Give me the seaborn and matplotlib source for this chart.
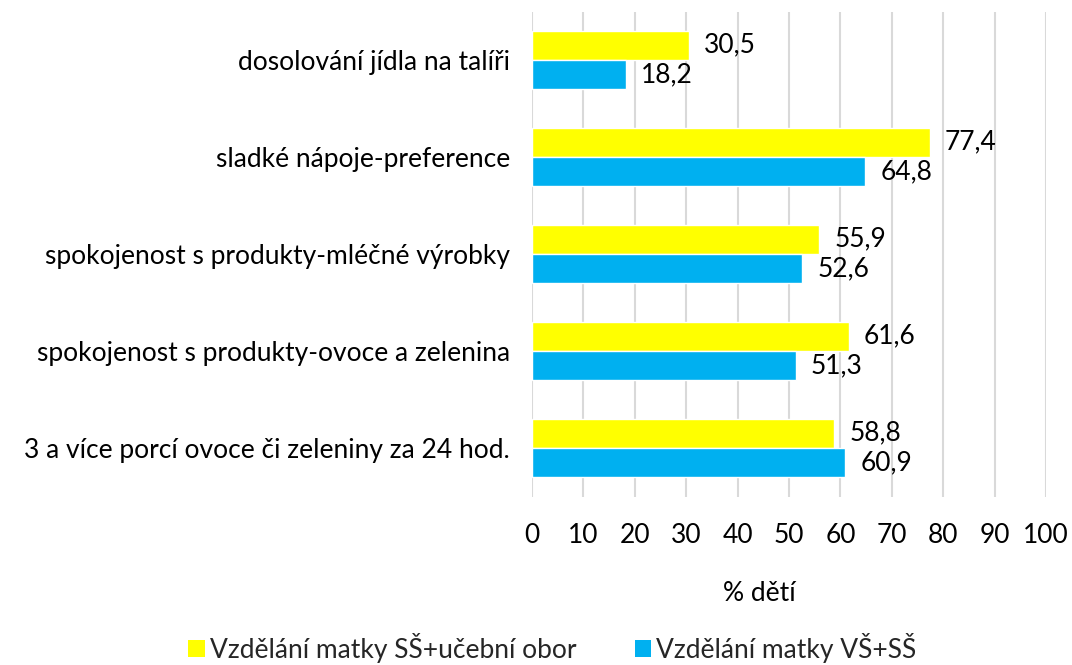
import matplotlib
matplotlib.use("Agg")
import matplotlib.pyplot as plt
import seaborn as sns
import pandas as pd
from matplotlib.patches import Patch

categories = [
    "dosolování jídla na talíři",
    "sladké nápoje-preference",
    "spokojenost s produkty-mléčné výrobky",
    "spokojenost s produkty-ovoce a zelenina",
    "3 a více porcí ovoce či zeleniny za 24 hod.",
]
series_names = ["Vzdělání matky SŠ+učební obor", "Vzdělání matky VŠ+SŠ"]
values_ss = [30.5, 77.4, 55.9, 61.6, 58.8]
values_vs = [18.2, 64.8, 52.6, 51.3, 60.9]
colors = ["#FFFF00", "#00B0F0"]
x_ticks = [0, 10, 20, 30, 40, 50, 60, 70, 80, 90, 100]
x_label = "% dětí"

df = pd.DataFrame({
    "cat": categories * 2,
    "val": values_ss + values_vs,
    "series": [series_names[0]] * len(categories) + [series_names[1]] * len(categories),
})

sns.set_theme(style="white")
plt.rcParams["font.family"] = ["Lato", "DejaVu Sans"]
FS = 19

fig = plt.figure(figsize=(10.72, 6.65), dpi=100)
ax = fig.add_axes([532 / 1072, 1 - 496.5 / 665, (1046 - 532) / 1072, (496.5 - 11.5) / 665])

sns.barplot(data=df, y="cat", x="val", hue="series", hue_order=series_names,
            palette=colors, orient="h", width=0.608, saturation=1, ax=ax,
            legend=False, errorbar=None)

ax.set_xlim(0, 100)
ax.set_xticks(x_ticks)
ax.set_xticklabels([str(t) for t in x_ticks], fontsize=FS, color="#000000")
ax.tick_params(axis="x", length=0, pad=19)
ax.tick_params(axis="y", length=0, pad=16, labelsize=FS, labelcolor="#000000")
ax.set_ylabel("")
ax.set_xlabel(x_label, fontsize=FS, color="#000000")
ax.xaxis.set_label_coords((759 - 532) / (1046 - 532), -(581 - 496.5) / (496.5 - 11.5), transform=ax.transAxes)
ax.xaxis.label.set_verticalalignment("top")
ax.grid(axis="x", color="#D9D9D9", linewidth=1.5)
ax.grid(axis="y", visible=False)
ax.set_axisbelow(True)
for s in ax.spines.values():
    s.set_visible(False)

for cont in ax.containers:
    ax.bar_label(cont, labels=[f"{v:.1f}".replace(".", ",") for v in cont.datavalues],
                 padding=11, fontsize=FS, color="#000000")

handles = [Patch(facecolor=c, edgecolor="none") for c in colors]
fig.legend(handles, series_names, loc="center", bbox_to_anchor=(552.5 / 1072, 1 - 648 / 665),
           ncol=2, frameon=False, fontsize=FS, handlelength=0.62, handleheight=0.62,
           handletextpad=0.2, columnspacing=2.2, borderpad=0)

fig.savefig("out.png", dpi=100)
